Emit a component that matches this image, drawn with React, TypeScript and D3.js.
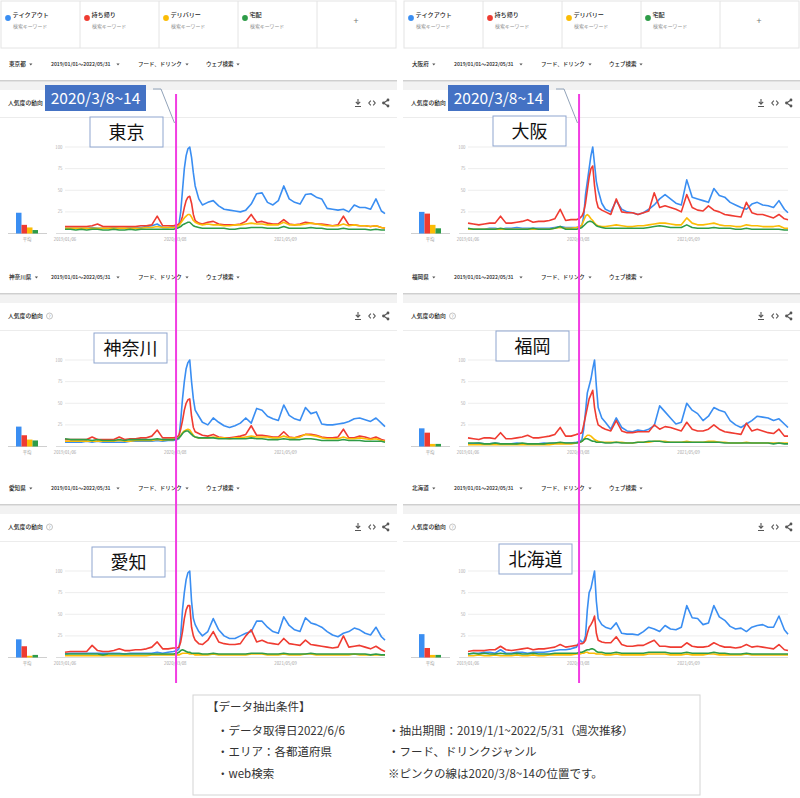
import React from 'react';
import * as d3 from 'd3';

// ---- data ----
const START = '2019/01/06';
const END = '2022/05/29';
// sample weeks, counted from 2019/01/06
const WEEKS = [
  0, 3, 6, 9, 12, 15, 18, 21, 24, 27, 30, 33, 36, 39, 42, 45, 48, 51, 54, 57, 60,
  62, 63, 64, 65, 66, 67, 68, 69, 70, 71, 72,
  74, 76,
  79, 82, 85, 88, 91, 94, 97, 100, 103, 106, 109, 112, 115, 118, 121, 124, 127, 130, 133, 136, 139, 142, 145, 148, 151, 154, 157, 160, 163, 166, 169, 172, 175,
  177,
];

const KEYWORDS = ['テイクアウト', '持ち帰り', 'デリバリー', '宅配'];
const KEYWORD_SUB = '検索キーワード';
const COLORS = ['#3a8ef2', '#ef3b31', '#fbbc05', '#2e9c48'];

const REGIONS = ['東京', '大阪', '神奈川', '福岡', '愛知', '北海道'];
const PREFS = ['東京都', '大阪府', '神奈川県', '福岡県', '愛知県', '北海道'];
const FILTERS = ['2019/01/01～2022/05/31', 'フード、ドリンク', 'ウェブ検索'];
const AVERAGES = [
  [24, 10, 7, 4],
  [25, 23, 10, 6],
  [23, 13, 8, 7],
  [21, 16, 3, 3],
  [21, 13, 2, 3],
  [27, 11, 3, 3],
];
const Y_TICKS = [25, 50, 75, 100];
const DATE_TICKS = ['2019/01/06', '2020/03/08', '2021/05/09'];
const MARK_WEEK = ['2020/03/08', '2020/03/14'];
const MARK_LABEL = '2020/3/8~14';

const tokyoTakeout = [
  6, 6, 6, 6, 6, 7, 6, 6, 6, 7, 6, 6, 7, 7, 7, 8, 9, 11, 7, 7, 8,
  9, 10, 25, 50, 75, 90, 98, 100, 88, 70, 55,
  40, 33,
  36, 38, 32, 28, 27, 26, 25, 27, 34, 46, 47, 36, 33, 38, 55, 40, 36, 34, 45, 46, 42, 40, 29, 28, 27, 28, 25, 33, 30, 30, 28, 40, 26,
  23,
];
const tokyoMochikaeri = [
  8, 8, 8, 8, 8, 9, 11, 8, 8, 8, 8, 8, 8, 8, 9, 9, 10, 20, 9, 9, 9,
  10, 11, 13, 20, 30, 38, 42, 43, 35, 22, 15,
  12, 11,
  13, 14, 11, 10, 10, 10, 11, 14, 22, 13, 14, 12, 11, 11, 16, 11, 10, 11, 13, 12, 11, 11, 10, 9, 10, 20, 10, 10, 9, 9, 8, 9, 7,
  6,
];
const tokyoDelivery = [
  6, 6, 6, 6, 6, 6, 6, 6, 6, 6, 6, 6, 6, 6, 6, 7, 7, 8, 7, 7, 7,
  8, 9, 12, 15, 18, 20, 22, 22, 19, 15, 13,
  11, 10,
  11, 10, 10, 9, 9, 10, 10, 11, 12, 11, 11, 10, 10, 10, 13, 10, 10, 10, 11, 12, 11, 10, 9, 9, 9, 11, 9, 10, 9, 9, 8, 9, 7,
  6,
];
const tokyoTakuhai = [
  5, 5, 4, 5, 4, 5, 5, 4, 4, 5, 4, 4, 5, 4, 5, 5, 5, 5, 5, 5, 5,
  6, 7, 8, 10, 11, 12, 13, 13, 11, 9, 8,
  7, 6,
  6, 6, 6, 6, 5, 5, 6, 6, 7, 7, 7, 6, 6, 6, 8, 6, 6, 6, 6, 7, 6, 6, 5, 5, 5, 6, 5, 5, 5, 5, 4, 5, 4,
  4,
];

const osakaTakeout = [
  5, 5, 5, 5, 6, 6, 5, 6, 6, 7, 6, 6, 6, 6, 6, 6, 7, 8, 7, 7, 7,
  8, 9, 20, 45, 60, 75, 90, 100, 80, 60, 50,
  35, 28,
  25, 38, 28, 25, 24, 22, 24, 28, 33, 40, 45, 40, 35, 33, 62, 42, 40, 38, 36, 52, 44, 42, 36, 33, 30, 28, 34, 36, 33, 32, 30, 38, 28,
  24,
];
const osakaMochikaeri = [
  12, 11, 10, 11, 12, 12, 20, 12, 12, 13, 14, 16, 13, 14, 14, 15, 17, 28, 15, 16, 16,
  18, 20, 25, 35, 50, 65, 75, 78, 55, 38, 30,
  27, 25,
  22, 40, 25, 24, 24, 22, 24, 26, 47, 30, 32, 30, 28, 25, 45, 30, 27, 26, 32, 27, 25, 22, 21, 20, 19, 36, 24, 22, 22, 20, 18, 22, 17,
  16,
];
const osakaDelivery = [
  5, 5, 5, 5, 5, 5, 5, 5, 5, 5, 5, 5, 5, 5, 5, 5, 6, 7, 6, 6, 7,
  8, 10, 15, 20, 22, 20, 17, 15, 12, 10, 9,
  8, 8,
  9, 10, 9, 8, 8, 9, 9, 10, 11, 12, 12, 11, 10, 10, 18, 12, 10, 10, 11, 12, 10, 9, 9, 8, 8, 10, 9, 9, 8, 8, 8, 9, 6,
  6,
];
const osakaTakuhai = [
  6, 5, 5, 5, 5, 5, 6, 5, 5, 5, 5, 5, 6, 5, 5, 5, 6, 8, 5, 5, 5,
  6, 7, 9, 11, 13, 14, 14, 13, 11, 9, 8,
  7, 6,
  6, 6, 6, 6, 6, 6, 6, 7, 8, 9, 8, 7, 7, 7, 10, 7, 6, 6, 6, 7, 6, 6, 6, 5, 5, 6, 5, 5, 5, 5, 5, 5, 4,
  4,
];

const kanagawaTakeout = [
  5, 5, 5, 5, 6, 5, 6, 5, 5, 5, 5, 5, 6, 6, 6, 6, 6, 7, 6, 7, 7,
  8, 9, 30, 55, 75, 90, 97, 100, 75, 55, 42,
  35, 28,
  25, 33, 28, 24, 22, 24, 27, 33, 27, 44, 42, 35, 32, 30, 48, 36, 32, 30, 45, 38, 40, 26, 25, 25, 26, 27, 29, 32, 33, 31, 29, 33, 27,
  23,
];
const kanagawaMochikaeri = [
  8, 8, 8, 8, 8, 11, 8, 8, 8, 8, 11, 8, 9, 9, 10, 10, 12, 19, 10, 10, 10,
  11, 13, 20, 30, 42, 50, 54, 55, 35, 22, 17,
  15, 13,
  12, 14, 11, 10, 10, 11, 12, 14, 24, 13, 13, 12, 11, 11, 17, 11, 10, 12, 14, 14, 13, 11, 10, 10, 11, 20, 10, 10, 12, 11, 9, 11, 8,
  7,
];
const kanagawaDelivery = [
  6, 6, 6, 6, 6, 6, 6, 6, 6, 6, 7, 6, 6, 7, 7, 7, 7, 8, 7, 8, 8,
  9, 10, 13, 16, 18, 19, 20, 19, 16, 13, 11,
  10, 10,
  10, 11, 10, 10, 9, 10, 10, 11, 12, 11, 11, 11, 10, 10, 12, 10, 10, 11, 14, 13, 12, 10, 9, 9, 9, 11, 9, 9, 10, 9, 8, 9, 7,
  6,
];
const kanagawaTakuhai = [
  9, 8, 8, 8, 8, 7, 8, 7, 7, 7, 8, 7, 8, 8, 8, 8, 8, 9, 8, 8, 8,
  9, 10, 12, 15, 17, 18, 18, 16, 14, 12, 11,
  10, 10,
  10, 10, 9, 9, 9, 9, 9, 9, 10, 9, 9, 8, 8, 8, 9, 8, 8, 8, 9, 9, 8, 7, 7, 7, 7, 8, 7, 7, 7, 6, 6, 6, 6,
  5,
];

const fukuokaTakeout = [
  3, 3, 4, 3, 3, 4, 3, 3, 3, 4, 3, 3, 3, 3, 4, 3, 4, 4, 4, 4, 5,
  6, 8, 20, 40, 62, 70, 78, 90, 100, 70, 45,
  33, 28,
  20, 33, 22, 18, 17, 19, 18, 20, 24, 47, 40, 33, 26, 28, 50, 42, 38, 30, 35, 45, 42, 40, 30, 25, 22, 26, 30, 35, 34, 33, 30, 32, 26,
  22,
];
const fukuokaMochikaeri = [
  10, 9, 8, 10, 10, 9, 16, 9, 9, 10, 11, 13, 10, 10, 11, 12, 14, 22, 12, 12, 14,
  15, 16, 25, 35, 45, 55, 60, 65, 45, 33, 25,
  22, 20,
  18, 30, 18, 16, 16, 17, 17, 17, 25, 20, 23, 22, 20, 18, 28, 20, 18, 18, 20, 25, 20, 17, 16, 15, 14, 27, 18, 20, 18, 16, 15, 20, 12,
  12,
];
const fukuokaDelivery = [
  2, 2, 2, 2, 2, 2, 2, 2, 2, 2, 2, 2, 2, 2, 2, 2, 3, 3, 3, 3, 4,
  5, 6, 8, 11, 13, 13, 12, 10, 8, 7, 6,
  5, 5,
  5, 5, 5, 4, 4, 5, 5, 5, 6, 6, 6, 5, 5, 5, 6, 5, 5, 5, 6, 6, 5, 5, 4, 4, 4, 5, 4, 4, 4, 4, 4, 4, 4,
  4,
];
const fukuokaTakuhai = [
  4, 4, 4, 3, 3, 4, 3, 3, 3, 3, 4, 3, 3, 3, 3, 4, 4, 5, 4, 4, 4,
  5, 6, 8, 9, 9, 8, 7, 6, 6, 5, 5,
  5, 4,
  4, 5, 4, 4, 4, 5, 5, 6, 6, 6, 5, 5, 5, 5, 5, 5, 5, 5, 5, 5, 5, 4, 4, 4, 4, 4, 4, 4, 4, 4, 3, 4, 3,
  3,
];

const aichiTakeout = [
  4, 5, 5, 5, 5, 5, 5, 5, 5, 5, 5, 4, 5, 5, 5, 5, 5, 6, 5, 6, 7,
  8, 10, 25, 55, 75, 90, 98, 100, 65, 45, 38,
  30, 25,
  30, 45, 32, 25, 22, 22, 25, 28, 30, 42, 42, 35, 30, 28, 47, 37, 32, 30, 46, 40, 38, 35, 30, 26, 24, 28, 30, 34, 32, 28, 26, 35, 24,
  20,
];
const aichiMochikaeri = [
  6, 7, 7, 7, 7, 14, 8, 7, 7, 8, 10, 8, 8, 9, 9, 10, 12, 18, 10, 10, 11,
  11, 12, 18, 30, 45, 55, 60, 60, 35, 25, 20,
  16, 15,
  20, 30, 18, 16, 15, 15, 16, 25, 32, 18, 20, 17, 16, 15, 22, 16, 15, 14, 20, 15, 14, 13, 12, 11, 12, 25, 12, 13, 14, 12, 10, 13, 9,
  7,
];
const aichiDelivery = [
  2, 2, 2, 2, 2, 2, 2, 2, 2, 2, 2, 2, 2, 2, 2, 2, 3, 3, 3, 3, 3,
  3, 3, 4, 5, 5, 5, 5, 4, 4, 4, 3,
  3, 3,
  3, 4, 3, 3, 3, 3, 3, 3, 4, 4, 4, 3, 3, 3, 4, 3, 3, 3, 4, 4, 3, 3, 3, 3, 3, 3, 3, 4, 3, 3, 3, 3, 3,
  3,
];
const aichiTakuhai = [
  4, 4, 4, 4, 4, 4, 4, 3, 4, 4, 4, 4, 4, 4, 4, 4, 4, 4, 4, 4, 4,
  5, 6, 8, 9, 8, 7, 6, 6, 5, 5, 5,
  5, 4,
  4, 5, 4, 4, 4, 4, 4, 4, 5, 5, 5, 4, 4, 4, 5, 4, 4, 4, 4, 5, 4, 4, 4, 4, 4, 4, 4, 4, 4, 4, 3, 4, 3,
  3,
];

const hokkaidoTakeout = [
  4, 5, 5, 6, 6, 5, 9, 5, 5, 6, 6, 5, 6, 6, 6, 7, 8, 9, 9, 10, 12,
  20, 18, 18, 25, 55, 75, 80, 90, 100, 65, 45,
  38, 35,
  33, 40, 28, 27, 27, 26, 30, 35, 33, 30, 37, 33, 32, 35, 60, 46, 45, 38, 40, 60, 47, 43, 36, 33, 34, 30, 35, 37, 38, 35, 35, 48, 32,
  27,
];
const hokkaidoMochikaeri = [
  7, 8, 8, 8, 9, 9, 13, 9, 8, 9, 10, 11, 9, 10, 10, 11, 12, 15, 12, 13, 14,
  16, 16, 17, 20, 28, 35, 38, 42, 48, 28, 20,
  18, 17,
  17, 24, 15, 13, 13, 14, 14, 17, 20, 13, 13, 12, 12, 12, 17, 13, 12, 12, 13, 17, 14, 12, 12, 11, 12, 15, 12, 13, 12, 11, 10, 15, 9,
  8,
];
const hokkaidoDelivery = [
  2, 2, 3, 2, 2, 3, 2, 2, 2, 3, 2, 2, 3, 2, 2, 3, 3, 3, 3, 3, 4,
  4, 5, 5, 6, 6, 5, 5, 5, 5, 4, 4,
  4, 3,
  3, 4, 3, 3, 3, 3, 3, 4, 4, 4, 4, 3, 3, 3, 4, 3, 3, 3, 4, 4, 3, 3, 3, 3, 3, 4, 3, 3, 3, 3, 3, 3, 3,
  3,
];
const hokkaidoTakuhai = [
  4, 5, 4, 5, 4, 4, 5, 4, 4, 5, 4, 4, 5, 4, 4, 4, 5, 5, 5, 5, 5,
  6, 6, 7, 8, 9, 9, 10, 10, 9, 7, 6,
  6, 5,
  5, 6, 5, 5, 5, 5, 5, 6, 6, 6, 6, 5, 5, 5, 6, 5, 5, 5, 5, 6, 5, 5, 4, 4, 4, 5, 4, 4, 4, 4, 4, 4, 4,
  4,
];

const SERIES = [
  [tokyoTakeout, tokyoMochikaeri, tokyoDelivery, tokyoTakuhai],
  [osakaTakeout, osakaMochikaeri, osakaDelivery, osakaTakuhai],
  [kanagawaTakeout, kanagawaMochikaeri, kanagawaDelivery, kanagawaTakuhai],
  [fukuokaTakeout, fukuokaMochikaeri, fukuokaDelivery, fukuokaTakuhai],
  [aichiTakeout, aichiMochikaeri, aichiDelivery, aichiTakuhai],
  [hokkaidoTakeout, hokkaidoMochikaeri, hokkaidoDelivery, hokkaidoTakuhai],
];

// ---- layout ----
const W = 800;
const H = 798;
const COL_X = [0, 403];
const ROW_Y = [0, 213, 424];
const COL_W = 397;
const LABEL_BOX = [[90, 117], [90, 116], [94, 120], [93, 118], [92, 123], [96, 120]];
const JP = '"Noto Sans CJK JP", "Noto Sans", sans-serif';

const parse = d3.timeParse('%Y/%m/%d');
const startDate = parse(START) as Date;
const weekDates = WEEKS.map(w => d3.timeDay.offset(startDate, 7 * w));

const xScale = d3.scaleTime().domain([startDate, parse(END) as Date]).range([65, 385]);
const yScale = d3.scaleLinear().domain([0, 100]).range([233.5, 147]);
const barX = d3.scaleBand().domain(KEYWORDS).range([16, 38]).padding(0);

const Caret = ({ x, y }) => (
  <path d={`M${x - 1.6},${y - 1} L${x + 1.6},${y - 1} L${x},${y + 1} Z`} fill="#555" />
);

const Icons = ({ y }) => (
  <g stroke="#555" fill="none" strokeWidth={1.1}>
    {/* download */}
    <path d={`M358,${y - 4} V${y + 1} M355.8,${y - 1.2} L358,${y + 1.2} L360.2,${y - 1.2} M355,${y + 3.5} H361`} />
    {/* embed */}
    <path d={`M370.8,${y - 2.3} L368.8,${y} L370.8,${y + 2.3} M373.2,${y - 2.3} L375.2,${y} L373.2,${y + 2.3}`} />
    {/* share */}
    <path d={`M388,${y - 3} L383.5,${y} L388,${y + 3}`} />
    <g fill="#555" stroke="none">
      <circle cx={388} cy={y - 3} r={1.4} />
      <circle cx={383.5} cy={y} r={1.4} />
      <circle cx={388} cy={y + 3} r={1.4} />
    </g>
  </g>
);

const Legend = () => (
  <g fontFamily={JP}>
    <rect x={1} y={1} width={COL_W - 2} height={47} fill="#fff" stroke="#e4e4e4" />
    {KEYWORDS.map((k, i) => {
      const cx = 1 + 79 * i;
      return (
        <g key={k}>
          {i > 0 && <line x1={cx} x2={cx} y1={1} y2={48} stroke="#e4e4e4" />}
          <circle cx={cx + 7} cy={18} r={2.9} fill={COLORS[i]} />
          <text x={cx + 11.5} y={17.2} fontSize={6.1} fill="#1e1e1e" fontWeight={500}>{k}</text>
          <text x={cx + 12} y={27.5} fontSize={4.9} fill="#8f8f8f">{KEYWORD_SUB}</text>
        </g>
      );
    })}
    <line x1={317} x2={317} y1={1} y2={48} stroke="#e4e4e4" />
    <text x={356} y={24} fontSize={9} fill="#777" textAnchor="middle">+</text>
  </g>
);

const Panel = ({ i }) => {
  const col = i % 2;
  const row = Math.floor(i / 2);
  const pref = PREFS[i];
  const line = d3.line<number>()
    .x((_, j) => xScale(weekDates[j]))
    .y(v => yScale(v));
  const [bx, by] = LABEL_BOX[i];
  const prefEnd = 9 + pref.length * 5.6 + 5;

  return (
    <g transform={`translate(${COL_X[col]},${ROW_Y[row]})`} fontFamily={JP}>
      {row === 0 && <Legend />}

      {/* filter row */}
      <g fill="#222" fontWeight={500}>
        <text x={9} y={66} fontSize={5.6}>{pref}</text>
        <text x={51} y={66} fontSize={5.1}>{FILTERS[0]}</text>
        <text x={138} y={66} fontSize={5.5}>{FILTERS[1]}</text>
        <text x={206} y={66} fontSize={5.5}>{FILTERS[2]}</text>
      </g>
      <Caret x={prefEnd} y={64.5} />
      <Caret x={118} y={64.5} />
      <Caret x={187} y={64.5} />
      <Caret x={238} y={64.5} />

      {/* band between filter row and chart card */}
      <rect x={0} y={80} width={COL_W} height={10} fill="#f2f2f2" />
      <line x1={0} x2={COL_W} y1={80.5} y2={80.5} stroke="#cfcfcf" />
      <line x1={0} x2={COL_W} y1={81.5} y2={81.5} stroke="#e2e2e2" />

      {/* card header */}
      <text x={8} y={105} fontSize={5.8} fill="#222" fontWeight={500}>人気度の動向</text>
      {row > 0 && (
        <g>
          <circle cx={49.5} cy={103} r={3} fill="none" stroke="#aaa" strokeWidth={0.7} />
          <text x={49.5} y={104.8} fontSize={4.5} fill="#999" textAnchor="middle">?</text>
        </g>
      )}
      <Icons y={103} />
      <line x1={0} x2={COL_W} y1={117.5} y2={117.5} stroke="#ececec" />

      {/* grid */}
      {Y_TICKS.map(t => (
        <g key={t}>
          <line x1={65} x2={385} y1={yScale(t)} y2={yScale(t)} stroke="#ededed" />
          <text x={62.5} y={yScale(t) + 1.5} fontSize={4.3} fill="#b0b0b0" textAnchor="end">{t}</text>
        </g>
      ))}
      <line x1={56} x2={385} y1={yScale(0)} y2={yScale(0)} stroke="#dcdcdc" />
      {DATE_TICKS.map(d => (
        <text key={d} x={xScale(parse(d) as Date)} y={240.5} fontSize={4.3} fill="#a0a0a0" textAnchor="middle">{d}</text>
      ))}

      {/* series */}
      {SERIES[i].map((s, k) => (
        <path key={k} d={line(s) || ''} fill="none" stroke={COLORS[k]} strokeWidth={1.6} strokeLinejoin="round" />
      ))}

      {/* averages */}
      <line x1={8} x2={47} y1={yScale(0)} y2={yScale(0)} stroke="#cfcfcf" />
      {AVERAGES[i].map((v, k) => (
        <rect key={k} x={barX(KEYWORDS[k])} y={yScale(v)} width={barX.bandwidth()} height={yScale(0) - yScale(v)} fill={COLORS[k]} />
      ))}
      <text x={27} y={240.5} fontSize={4.3} fill="#999" textAnchor="middle">平均</text>

      {/* region label */}
      <rect x={bx} y={by} width={73} height={30} fill="#fff" stroke="#8fa6cf" strokeWidth={1} />
      <text x={bx + 36.5} y={by + 21.5} fontSize={18} fill="#111" textAnchor="middle">{REGIONS[i]}</text>

      {/* date callout */}
      {row === 0 && (
        <g>
          <path d="M153,89 L161,89 L174.5,123" fill="none" stroke="#8497b0" strokeWidth={0.9} />
          <rect x={45} y={85} width={101} height={26} fill="#4472c4" />
          <text x={95.5} y={103.5} fontSize={15.5} fill="#fff" textAnchor="middle">{MARK_LABEL}</text>
        </g>
      )}
    </g>
  );
};

const markDate = d3.timeDay.offset(parse(MARK_WEEK[0]) as Date, 3);

const App = () => (
  <svg width={W} height={H} style={{ position: 'absolute', left: 0, top: 0, background: '#fff' }}>
    <rect width={W} height={H} fill="#fff" />
    {REGIONS.map((r, i) => <Panel key={r} i={i} />)}

    {/* pink marker through each column */}
    {COL_X.map((cx, c) => (
      <line key={c} x1={cx + xScale(markDate)} x2={cx + xScale(markDate)} y1={94} y2={683} stroke="#f23de2" strokeWidth={2} />
    ))}

    {/* extraction conditions */}
    <g fontFamily={JP} fontSize={11.5} fill="#333">
      <rect x={193} y={695} width={507} height={100} fill="#fff" stroke="#d4d4d4" />
      <text x={207} y={711}>【データ抽出条件】</text>
      <text x={217} y={735}>・データ取得日2022/6/6</text>
      <text x={388} y={735}>・抽出期間：2019/1/1~2022/5/31（週次推移）</text>
      <text x={217} y={756}>・エリア：各都道府県</text>
      <text x={388} y={756}>・フード、ドリンクジャンル</text>
      <text x={217} y={778}>・web検索</text>
      <text x={388} y={778}>※ピンクの線は2020/3/8~14の位置です。</text>
    </g>
  </svg>
);

export default App;
